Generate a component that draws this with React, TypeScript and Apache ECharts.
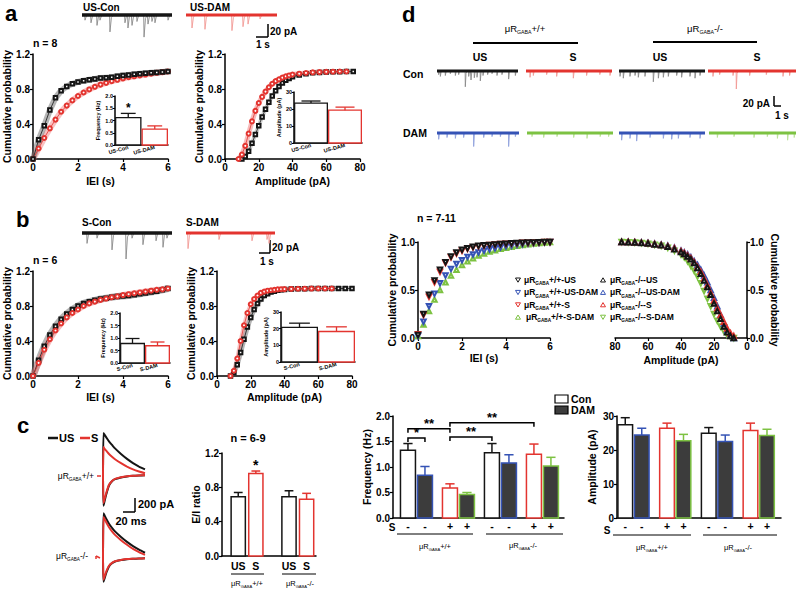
import React, { useEffect, useRef } from "react";
import * as echarts from "echarts";

const FONT = "'Liberation Sans', Arial, Helvetica, sans-serif";
const BLACK = "#151515";
const GREY_SPIKE = "#8a8a8a";
const RED = "#e3342f";
const RED_SPIKE = "#f29a95";
const BLUE = "#3553b5";
const BLUE_SPIKE = "#8ea0dc";
const GREEN = "#7dc242";
const GREEN_SPIKE = "#b9e294";
const DARK = "#3c3c3c";

// ---------------- cumulative data ----------------
const ieiX = [0, 0.25, 0.5, 0.75, 1, 1.25, 1.5, 1.75, 2, 2.25, 2.5, 2.75, 3, 3.25, 3.5, 3.75, 4, 4.25, 4.5, 4.75, 5, 5.25, 5.5, 5.75, 6];
const aIeiUsCon = [0, 0.22, 0.38, 0.56, 0.7, 0.78, 0.83, 0.86, 0.88, 0.895, 0.905, 0.915, 0.925, 0.93, 0.935, 0.945, 0.955, 0.96, 0.968, 0.975, 0.98, 0.985, 0.99, 0.995, 1];
const aIeiUsDam = [0, 0.12, 0.24, 0.35, 0.45, 0.54, 0.61, 0.67, 0.72, 0.76, 0.795, 0.825, 0.85, 0.87, 0.89, 0.905, 0.92, 0.935, 0.945, 0.955, 0.965, 0.975, 0.985, 0.992, 1];
const bIeiSCon = [0, 0.18, 0.34, 0.47, 0.57, 0.65, 0.71, 0.76, 0.8, 0.83, 0.85, 0.865, 0.88, 0.89, 0.9, 0.91, 0.915, 0.92, 0.93, 0.94, 0.95, 0.96, 0.97, 0.985, 1];
const bIeiSDam = [0, 0.15, 0.3, 0.42, 0.52, 0.6, 0.67, 0.72, 0.76, 0.8, 0.83, 0.85, 0.87, 0.885, 0.9, 0.91, 0.925, 0.935, 0.945, 0.955, 0.965, 0.975, 0.985, 0.99, 1];
const dIeiUs = [0.03, 0.25, 0.45, 0.6, 0.71, 0.79, 0.85, 0.89, 0.92, 0.935, 0.95, 0.96, 0.965, 0.97, 0.975, 0.98, 0.983, 0.986, 0.989, 0.992, 0.994, 0.996, 0.998, 0.999, 1];
const dIeiUsDam = [0.02, 0.17, 0.33, 0.46, 0.57, 0.65, 0.72, 0.77, 0.81, 0.845, 0.87, 0.89, 0.91, 0.925, 0.935, 0.945, 0.955, 0.962, 0.97, 0.977, 0.983, 0.988, 0.993, 0.997, 1];
const dIeiS = [0.04, 0.24, 0.43, 0.58, 0.69, 0.78, 0.84, 0.88, 0.91, 0.93, 0.945, 0.955, 0.962, 0.968, 0.973, 0.978, 0.982, 0.985, 0.988, 0.991, 0.993, 0.995, 0.997, 0.999, 1];
const dIeiSDam = [0.02, 0.14, 0.28, 0.4, 0.5, 0.58, 0.65, 0.71, 0.76, 0.8, 0.83, 0.86, 0.88, 0.9, 0.915, 0.93, 0.94, 0.95, 0.96, 0.968, 0.976, 0.984, 0.99, 0.995, 1];

const ampX = [8, 10, 12, 14, 16, 18, 20, 22, 24, 26, 28, 30, 32, 34, 36, 38, 40, 44, 48, 52, 56, 60, 64, 68, 72, 76];
const ampX80 = [8, 10, 12, 14, 16, 18, 20, 22, 24, 26, 28, 30, 32, 34, 36, 38, 40, 44, 48, 52, 56, 60, 64, 68, 72, 76, 80];
const aAmpUsCon = [null, 0, 0.03, 0.09, 0.18, 0.28, 0.38, 0.48, 0.57, 0.65, 0.72, 0.78, 0.83, 0.87, 0.9, 0.92, 0.94, 0.96, 0.975, 0.985, 0.99, 0.993, 0.996, 0.998, 1, 1];
const aAmpUsDam = [0, 0.05, 0.15, 0.29, 0.43, 0.55, 0.64, 0.71, 0.77, 0.82, 0.86, 0.89, 0.91, 0.93, 0.945, 0.955, 0.965, 0.975, 0.983, 0.99, 0.993, 0.996, 0.998, 1, 1, null];
const bAmpSCon = [0, 0.04, 0.13, 0.27, 0.42, 0.56, 0.67, 0.76, 0.83, 0.88, 0.92, 0.94, 0.96, 0.97, 0.98, 0.985, 0.99, 0.993, 0.996, 0.998, 1, 1, 1, 1, 1, 1, 1];
const bAmpSDam = [0, 0.06, 0.2, 0.4, 0.58, 0.72, 0.82, 0.88, 0.92, 0.95, 0.965, 0.975, 0.98, 0.985, 0.99, 0.992, 0.993, 0.995, 0.997, 0.998, 0.999, 1, 1, 1, null, null, null];
const dAmpUs = [0, 0.02, 0.06, 0.12, 0.2, 0.28, 0.36, 0.45, 0.53, 0.6, 0.67, 0.73, 0.78, 0.82, 0.85, 0.875, 0.895, 0.925, 0.95, 0.965, 0.975, 0.985, 0.99, 0.995, 0.998, 1];
const dAmpUsDam = [0, 0.03, 0.08, 0.15, 0.24, 0.33, 0.42, 0.5, 0.58, 0.65, 0.71, 0.76, 0.8, 0.84, 0.87, 0.89, 0.91, 0.94, 0.96, 0.972, 0.982, 0.99, 0.994, 0.997, 1, 1];
const dAmpS = [0.02, 0.05, 0.1, 0.17, 0.24, 0.31, 0.39, 0.47, 0.55, 0.62, 0.69, 0.74, 0.79, 0.83, 0.86, 0.885, 0.905, 0.935, 0.955, 0.97, 0.98, 0.988, 0.993, 0.997, 1, 1];
const dAmpSDam = [0, 0.01, 0.03, 0.07, 0.12, 0.18, 0.25, 0.33, 0.41, 0.49, 0.57, 0.64, 0.7, 0.75, 0.8, 0.84, 0.87, 0.91, 0.94, 0.96, 0.972, 0.982, 0.99, 0.995, 0.998, 1];

// ---------------- bar data ----------------
const aCats = ["US-Con", "US-DAM"];
const aFreqMean = [1.12, 0.65];
const aFreqSem = [0.17, 0.13];
const aFreqSig = ["*", ""];
const aAmpMean = [23.5, 19.3];
const aAmpSem = [1.2, 1.8];
const bCats = ["S-Con", "S-DAM"];
const bFreqMean = [0.78, 0.69];
const bFreqSem = [0.2, 0.15];
const bAmpMean = [20.8, 18.3];
const bAmpSem = [2.5, 2.8];

const eiCats = ["US", "S", "US", "S"];
const eiMean = [0.69, 0.96, 0.69, 0.66];
const eiSem = [0.05, 0.03, 0.07, 0.07];
const eiSig = ["", "*", "", ""];

const dStim = ["-", "-", "+", "+", "-", "-", "+", "+"];
const dFreqMean = [1.33, 0.84, 0.59, 0.46, 1.28, 1.08, 1.25, 1.02];
const dFreqSem = [0.13, 0.17, 0.08, 0.04, 0.18, 0.16, 0.2, 0.17];
const dAmpMean = [27.4, 24.4, 26.4, 22.7, 24.9, 22.5, 25.7, 24.3];
const dAmpSem = [2.1, 2.0, 1.5, 1.9, 1.7, 1.9, 2.2, 1.8];
// [bar i, bar j, height (Hz), label]
const freqSig: [number, number, number, string][] = [
  [0, 1, 1.57, "*"],
  [0, 2, 1.75, "**"],
  [2, 6, 1.87, "**"],
  [2, 4, 1.59, "**"],
];

// ---------------- example traces (spike times s, amplitudes pA) ----------------
const aUsConSpikes = [[0.25, 8], [0.75, 12], [1.25, 16], [1.5, 8], [2.33, 26], [3.58, 12], [3.83, 20], [4.17, 16], [4.58, 10], [5.17, 34], [5.5, 14], [5.83, 10], [6.08, 12], [7.17, 8]];
const aUsDamSpikes = [[0.5, 20], [1.58, 22], [3.83, 24], [4.75, 18], [5.17, 14], [6.17, 6]];
const bSConSpikes = [[0.42, 16], [1.25, 8], [2.5, 26], [3.67, 40], [4.17, 8], [5.08, 18], [6.17, 12], [6.75, 22], [7.08, 8]];
const bSDamSpikes = [[0.17, 24], [2.75, 10], [5.5, 12], [6.75, 10], [6.92, 16]];

const dWtUsSpikes = [[0.28, 8], [0.56, 12], [1.39, 10], [2.22, 6], [3.06, 10], [3.61, 8], [4.72, 35], [5.28, 12], [5.67, 20], [6.22, 15], [6.67, 14], [7.22, 22], [7.67, 10], [8.44, 8], [9.17, 6], [10.0, 10], [10.83, 8], [11.94, 18], [13.06, 10]];
const dWtSSpikes = [[0.67, 14], [1.22, 10], [3.44, 8], [5.11, 12], [7.89, 16], [10.1, 10], [12.3, 8], [14.0, 10]];
const dKoUsSpikes = [[0.17, 12], [0.72, 16], [1.83, 12], [2.67, 10], [3.22, 14], [4.33, 12], [5.72, 24], [6.56, 16], [7.39, 14], [8.22, 12], [9.61, 10], [10.44, 14], [11.83, 12], [12.67, 16], [13.5, 10]];
const dKoSSpikes = [[0.83, 12], [1.94, 8], [4.17, 10], [4.72, 40], [6.94, 10], [9.72, 8], [12.5, 12], [13.6, 10]];
const dWtUsDamSpikes = [[0.28, 14], [1.67, 10], [3.06, 12], [4.44, 10], [6.11, 30], [7.78, 10], [9.17, 8], [10.56, 8], [11.94, 30], [13.06, 8]];
const dWtSDamSpikes = [[0.83, 8], [2.78, 10], [5.0, 8], [7.78, 10], [10.0, 12], [12.2, 8], [13.6, 8]];
const dKoUsDamSpikes = [[0.44, 16], [1.83, 12], [2.94, 18], [5.17, 10], [7.39, 12], [8.78, 14], [9.89, 12], [11.83, 10], [13.5, 12]];
const dKoSDamSpikes = [[1.39, 10], [4.17, 8], [7.5, 10], [9.72, 8], [11.4, 12], [13.1, 16], [14.2, 10]];

// evoked currents (ms, pA)
const cT = [0, 0.8, 3, 6, 10, 15, 20, 30, 40, 50, 60, 70];
const cWtUsOut = [0, 600, 570, 530, 480, 430, 380, 300, 230, 170, 120, 80];
const cWtSOut = [0, 400, 370, 340, 300, 260, 225, 170, 120, 80, 50, 25];
const cWtUsIn = [0, -440, -360, -260, -150, -90, -60, -35, -20, -12, -8, -5];
const cWtSIn = [0, -400, -330, -240, -140, -85, -55, -32, -18, -10, -6, -4];
const cKoUsOut = [0, 640, 600, 550, 490, 430, 380, 300, 230, 170, 120, 75];
const cKoSOut = [0, 585, 550, 500, 440, 380, 330, 255, 190, 130, 85, 45];
const cKoUsIn = [0, -340, -280, -200, -120, -75, -50, -30, -18, -12, -8, -5];
const cKoSIn = [0, -310, -255, -180, -110, -70, -46, -28, -16, -11, -7, -4];

// ---------------- helpers ----------------
const zip = (xs: number[], ys: (number | null)[]) =>
  xs.map((x, i) => [x, ys[i]]).filter((p) => p[1] !== null && p[1] !== undefined);

function spikeTrace(spikes: number[][], dur: number) {
  const pts: number[][] = [[0, 0]];
  spikes.forEach(([t, a]) => {
    pts.push([t - 0.03, 0], [t, -a], [t + 0.12, -a * 0.15], [t + 0.28, 0]);
  });
  pts.push([dur, 0]);
  return pts;
}

const BAR_FILL = ["#ffffff", DARK, "#ffffff", DARK];
const BAR_STROKE = [BLACK, BLUE, RED, GREEN];

function barSeries(gi: number, items: number[][], fills: string[], strokes: string[], wUnits: number, opt: any = {}) {
  const lw = opt.lw ?? 1.5;
  return {
    type: "custom",
    xAxisIndex: gi,
    yAxisIndex: gi,
    clip: false,
    silent: true,
    data: items,
    renderItem: (p: any, api: any) => {
      const x = api.value(0), m = api.value(1), s = api.value(2), k = api.value(3);
      const b = api.coord([x, 0]);
      const t = api.coord([x, m]);
      const e = api.coord([x, m + s]);
      const w = api.size([wUnits, 0])[0];
      const stroke = strokes[k];
      const ch: any[] = [
        { type: "rect", shape: { x: b[0] - w / 2 + lw / 2, y: t[1], width: w - lw, height: b[1] - t[1] }, style: { fill: fills[k], stroke, lineWidth: lw } },
        { type: "line", shape: { x1: b[0], y1: t[1], x2: b[0], y2: e[1] }, style: { stroke, lineWidth: lw } },
        { type: "line", shape: { x1: b[0] - w * 0.28, y1: e[1], x2: b[0] + w * 0.28, y2: e[1] }, style: { stroke, lineWidth: lw } },
      ];
      const idx = p.dataIndex;
      if (opt.below) {
        ch.push({ type: "text", x: b[0], y: b[1] + (opt.belowGap ?? 9), style: { text: opt.below[idx], fontSize: opt.belowFs ?? 10, fontWeight: "bold", fontFamily: FONT, fill: "#000", align: "center", verticalAlign: "middle" } });
      }
      if (opt.sig && opt.sig[idx]) {
        ch.push({ type: "text", x: b[0], y: e[1] + 1, style: { text: opt.sig[idx], fontSize: opt.sigFs ?? 12, fontWeight: "bold", fontFamily: FONT, fill: "#000", align: "center", verticalAlign: "bottom" } });
      }
      return { type: "group", children: ch };
    },
  };
}

const axStyle = (fs: number, nameFs: number, tick = true) => ({
  axisLine: { show: true, onZero: false, lineStyle: { color: "#000", width: 1.5 } },
  axisTick: { show: tick, length: 3, lineStyle: { color: "#000", width: 1.2 } },
  axisLabel: { show: true, color: "#000", fontSize: fs, fontWeight: "bold", fontFamily: FONT, margin: 3 },
  splitLine: { show: false },
  nameTextStyle: { color: "#000", fontSize: nameFs, fontWeight: "bold", fontFamily: FONT },
});

const fix1 = (v: number) => v.toFixed(1);

// positions of bars along the bar charts' value axes (layout)
const dFreqPos = [0, 1, 2, 3, 4, 5, 6, 7].map((i) => 0.88 + Math.floor(i / 2) * 2.47 + (i % 2));
const dAmpPos = [0, 1, 2, 3, 4, 5, 6, 7].map((i) => 0.5 + Math.floor(i / 2) * 2.53 + (i % 2));
const eiPos = [0, 1, 2, 3].map((i) => 0.95 + Math.floor(i / 2) * 2.97 + (i % 2) * 1.03);

let FREQ_GRID = 0;

function buildOption() {
  const grid: any[] = [];
  const xAxis: any[] = [];
  const yAxis: any[] = [];
  const series: any[] = [];
  const addGrid = (g: any, x: any, y: any) => {
    grid.push({ ...g, containLabel: false, outerBoundsMode: "none", show: false });
    const i = grid.length - 1;
    xAxis.push({ gridIndex: i, ...x });
    yAxis.push({ gridIndex: i, ...y });
    return i;
  };
  const addTrace = (left: number, baseY: number, width: number, pxX: number, pxY: number, above: number, below: number, spikes: number[][], band: string, spikeCol: string, bandW: number) => {
    const dur = width / pxX;
    const gi = addGrid(
      { left, top: baseY - above, width, height: above + below },
      { type: "value", show: false, min: 0, max: dur },
      { type: "value", show: false, min: -below / pxY, max: above / pxY }
    );
    series.push({ type: "line", xAxisIndex: gi, yAxisIndex: gi, data: spikeTrace(spikes, dur), symbol: "none", lineStyle: { color: spikeCol, width: 0.9 }, silent: true });
    series.push({ type: "line", xAxisIndex: gi, yAxisIndex: gi, data: [[0, 0], [dur, 0]], symbol: "none", lineStyle: { color: band, width: bandW }, silent: true });
  };
  const band = (gi: number, xs: number[], ys: any[], color: string, w: number) => ({
    type: "line", xAxisIndex: gi, yAxisIndex: gi, data: zip(xs, ys), symbol: "none", lineStyle: { color, width: w }, silent: true,
  });
  const cum = (gi: number, xs: number[], ys: any[], color: string, symbol: string, size: number) => ({
    type: "line", xAxisIndex: gi, yAxisIndex: gi, data: zip(xs, ys), symbol, symbolSize: size, showSymbol: true,
    itemStyle: { color, borderColor: color, borderWidth: 1 }, lineStyle: { color, width: 0.8 }, silent: true,
  });
  const tri = (gi: number, xs: number[], ys: any[], color: string, down: boolean) => ({
    type: "line", xAxisIndex: gi, yAxisIndex: gi, data: zip(xs, ys), symbol: "emptyTriangle", symbolSize: 4.5, symbolRotate: down ? 180 : 0,
    showSymbol: true, itemStyle: { color, borderColor: color, borderWidth: 1 }, lineStyle: { width: 0, opacity: 0 }, silent: true,
  });

  // ---------- panel a ----------
  addTrace(82, 15, 90, 12, 0.65, 6, 26, aUsConSpikes, BLACK, GREY_SPIKE, 3.5);
  addTrace(186, 15, 91, 12, 0.65, 6, 26, aUsDamSpikes, RED, RED_SPIKE, 3);
  const gA1 = addGrid(
    { left: 33, top: 54, width: 135, height: 105 },
    { type: "value", min: 0, max: 6, interval: 2, name: "IEI (s)", nameLocation: "middle", nameGap: 16, ...axStyle(10, 10.5) },
    { type: "value", min: 0, max: 1.2, interval: 0.4, name: "Cumulative probability", nameLocation: "middle", nameGap: 17, ...axStyle(10, 10.5), axisLabel: { ...axStyle(10, 10).axisLabel, formatter: fix1 } }
  );
  series.push(band(gA1, ieiX, aIeiUsDam, "rgba(240,120,120,0.45)", 6));
  series.push(band(gA1, ieiX, aIeiUsCon, "rgba(90,90,90,0.45)", 6));
  series.push(cum(gA1, ieiX, aIeiUsDam, RED, "emptyCircle", 4));
  series.push(cum(gA1, ieiX, aIeiUsCon, BLACK, "emptyRect", 3.5));
  const gA1i = addGrid(
    { left: 115, top: 96, width: 53, height: 49 },
    { type: "category", data: aCats, ...axStyle(5.5, 5.5, false), axisLabel: { ...axStyle(5.5, 5.5).axisLabel, rotate: 15, interval: 0, margin: 2 } },
    { type: "value", min: 0, max: 2, interval: 0.5, name: "Frequency (Hz)", nameLocation: "middle", nameGap: 12, ...axStyle(5.5, 5.5), axisLabel: { ...axStyle(5.5, 5.5).axisLabel, formatter: fix1, margin: 2 }, axisTick: { show: true, length: 2, lineStyle: { width: 1 } } }
  );
  series.push(barSeries(gA1i, aFreqMean.map((m, i) => [i, m, aFreqSem[i], i]), ["#fff", "#fff"], [BLACK, RED], 0.47, { sig: aFreqSig, sigFs: 12, lw: 1.3 }));
  const gA2 = addGrid(
    { left: 225, top: 54, width: 135, height: 105 },
    { type: "value", min: 0, max: 80, interval: 20, name: "Amplitude (pA)", nameLocation: "middle", nameGap: 16, ...axStyle(10, 10.5) },
    { type: "value", min: 0, max: 1.2, interval: 0.4, name: "Cumulative probability", nameLocation: "middle", nameGap: 17, ...axStyle(10, 10.5), axisLabel: { ...axStyle(10, 10).axisLabel, formatter: fix1 } }
  );
  series.push(band(gA2, ampX, aAmpUsDam, "rgba(240,120,120,0.5)", 5));
  series.push(band(gA2, ampX, aAmpUsCon, "rgba(90,90,90,0.3)", 4));
  series.push(cum(gA2, ampX, aAmpUsCon, BLACK, "emptyRect", 3.5));
  series.push(cum(gA2, ampX, aAmpUsDam, RED, "emptyCircle", 4));
  const gA2i = addGrid(
    { left: 294, top: 92, width: 68, height: 51 },
    { type: "category", data: aCats, ...axStyle(5.5, 5.5, false), axisLabel: { ...axStyle(5.5, 5.5).axisLabel, rotate: 15, interval: 0, margin: 2 } },
    { type: "value", min: 0, max: 30, interval: 10, name: "Amplitude (pA)", nameLocation: "middle", nameGap: 10, ...axStyle(5.5, 5.5), axisLabel: { ...axStyle(5.5, 5.5).axisLabel, margin: 2 }, axisTick: { show: true, length: 2, lineStyle: { width: 1 } } }
  );
  series.push(barSeries(gA2i, aAmpMean.map((m, i) => [i, m, aAmpSem[i], i]), ["#fff", "#fff"], [BLACK, RED], 0.42, { lw: 1.3 }));

  // ---------- panel b ----------
  addTrace(82, 233, 90, 12, 0.65, 6, 28, bSConSpikes, BLACK, GREY_SPIKE, 3.5);
  addTrace(186, 233, 89, 12, 0.65, 6, 28, bSDamSpikes, RED, RED_SPIKE, 3);
  const gB1 = addGrid(
    { left: 33, top: 271, width: 135, height: 105 },
    { type: "value", min: 0, max: 6, interval: 2, name: "IEI (s)", nameLocation: "middle", nameGap: 15, ...axStyle(10, 10.5) },
    { type: "value", min: 0, max: 1.2, interval: 0.4, name: "Cumulative probability", nameLocation: "middle", nameGap: 17, ...axStyle(10, 10.5), axisLabel: { ...axStyle(10, 10).axisLabel, formatter: fix1 } }
  );
  series.push(band(gB1, ieiX, bIeiSCon, "rgba(90,90,90,0.45)", 7));
  series.push(band(gB1, ieiX, bIeiSDam, "rgba(240,120,120,0.5)", 6));
  series.push(cum(gB1, ieiX, bIeiSCon, BLACK, "emptyRect", 3.5));
  series.push(cum(gB1, ieiX, bIeiSDam, RED, "emptyCircle", 4));
  const gB1i = addGrid(
    { left: 120, top: 313, width: 50, height: 50 },
    { type: "category", data: bCats, ...axStyle(5.5, 5.5, false), axisLabel: { ...axStyle(5.5, 5.5).axisLabel, rotate: 15, interval: 0, margin: 2 } },
    { type: "value", min: 0, max: 2, interval: 0.5, name: "Frequency (Hz)", nameLocation: "middle", nameGap: 12, ...axStyle(5.5, 5.5), axisLabel: { ...axStyle(5.5, 5.5).axisLabel, formatter: fix1, margin: 2 }, axisTick: { show: true, length: 2, lineStyle: { width: 1 } } }
  );
  series.push(barSeries(gB1i, bFreqMean.map((m, i) => [i, m, bFreqSem[i], i]), ["#fff", "#fff"], [BLACK, RED], 0.55, { lw: 1.3 }));
  const gB2 = addGrid(
    { left: 217, top: 271, width: 135, height: 105 },
    { type: "value", min: 0, max: 80, interval: 20, name: "Amplitude (pA)", nameLocation: "middle", nameGap: 15, ...axStyle(10, 10.5) },
    { type: "value", min: 0, max: 1.2, interval: 0.4, name: "Cumulative probability", nameLocation: "middle", nameGap: 17, ...axStyle(10, 10.5), axisLabel: { ...axStyle(10, 10).axisLabel, formatter: fix1 } }
  );
  series.push(band(gB2, ampX80, bAmpSCon, "rgba(90,90,90,0.45)", 5));
  series.push(band(gB2, ampX80, bAmpSDam, "rgba(240,120,120,0.45)", 4));
  series.push(cum(gB2, ampX80, bAmpSCon, BLACK, "emptyRect", 3.5));
  series.push(cum(gB2, ampX80, bAmpSDam, RED, "emptyCircle", 4));
  const gB2i = addGrid(
    { left: 281, top: 312, width: 74, height: 50 },
    { type: "category", data: bCats, ...axStyle(5.5, 5.5, false), axisLabel: { ...axStyle(5.5, 5.5).axisLabel, rotate: 15, interval: 0, margin: 2 } },
    { type: "value", min: 0, max: 30, interval: 10, name: "Amplitude (pA)", nameLocation: "middle", nameGap: 10, ...axStyle(5.5, 5.5), axisLabel: { ...axStyle(5.5, 5.5).axisLabel, margin: 2 }, axisTick: { show: true, length: 2, lineStyle: { width: 1 } } }
  );
  series.push(barSeries(gB2i, bAmpMean.map((m, i) => [i, m, bAmpSem[i], i]), ["#fff", "#fff"], [BLACK, RED], 0.45, { lw: 1.3 }));

  // ---------- panel c ----------
  const cTrace = (top: number, out1: number[], out2: number[], in1: number[], in2: number[]) => {
    const gi = addGrid(
      { left: 103, top, width: 42, height: 84 },
      { type: "value", show: false, min: 0, max: 70 },
      { type: "value", show: false, min: -500, max: 700 }
    );
    series.push({ type: "line", xAxisIndex: gi, yAxisIndex: gi, data: zip(cT, out1), symbol: "none", smooth: 0.2, lineStyle: { color: BLACK, width: 2 }, silent: true });
    series.push({ type: "line", xAxisIndex: gi, yAxisIndex: gi, data: zip(cT, in1), symbol: "none", smooth: 0.2, lineStyle: { color: BLACK, width: 2 }, silent: true });
    series.push({ type: "line", xAxisIndex: gi, yAxisIndex: gi, data: zip(cT, out2), symbol: "none", smooth: 0.2, lineStyle: { color: RED, width: 2 }, silent: true });
    series.push({ type: "line", xAxisIndex: gi, yAxisIndex: gi, data: zip(cT, in2), symbol: "none", smooth: 0.2, lineStyle: { color: RED, width: 2 }, silent: true });
  };
  cTrace(426, cWtUsOut, cWtSOut, cWtUsIn, cWtSIn);
  cTrace(509, cKoUsOut, cKoSOut, cKoUsIn, cKoSIn);
  const gC = addGrid(
    { left: 222, top: 453, width: 94, height: 103 },
    { type: "value", min: 0, max: 5.5, ...axStyle(10, 10, false), axisLabel: { show: false } },
    { type: "value", min: 0, max: 1.2, interval: 0.4, name: "E/I ratio", nameLocation: "middle", nameGap: 20, ...axStyle(10, 10.5), axisLabel: { ...axStyle(10, 10).axisLabel, formatter: fix1 } }
  );
  series.push(barSeries(gC, eiMean.map((m, i) => [eiPos[i], m, eiSem[i], i]), ["#fff", "#fff", "#fff", "#fff"], [BLACK, RED, BLACK, RED], 0.92, { below: eiCats, belowFs: 10.5, belowGap: 10, sig: eiSig, sigFs: 14 }));

  // ---------- panel d traces ----------
  const dRow = (baseY: number, specs: [number, number, number[][], string, string][]) =>
    specs.forEach(([left, width, sp, col, spc]) => addTrace(left, baseY, width, 6, 0.45, 8, 26, sp, col, spc, 3));
  dRow(71, [
    [437, 81, dWtUsSpikes, BLACK, GREY_SPIKE],
    [526, 86, dWtSSpikes, RED, RED_SPIKE],
    [619, 86, dKoUsSpikes, BLACK, GREY_SPIKE],
    [708, 88, dKoSSpikes, RED, RED_SPIKE],
  ]);
  dRow(133, [
    [437, 82, dWtUsDamSpikes, BLUE, BLUE_SPIKE],
    [527, 86, dWtSDamSpikes, GREEN, GREEN_SPIKE],
    [619, 86, dKoUsDamSpikes, BLUE, BLUE_SPIKE],
    [709, 87, dKoSDamSpikes, GREEN, GREEN_SPIKE],
  ]);

  // ---------- panel d cumulative ----------
  const gD1 = addGrid(
    { left: 418, top: 242, width: 132, height: 96 },
    { type: "value", min: 0, max: 6, interval: 2, name: "IEI (s)", nameLocation: "middle", nameGap: 14, ...axStyle(10, 10.5) },
    { type: "value", min: 0, max: 1, interval: 0.5, name: "Cumulative probability", nameLocation: "middle", nameGap: 17, ...axStyle(10, 10.5), axisLabel: { ...axStyle(10, 10).axisLabel, formatter: fix1 } }
  );
  series.push(tri(gD1, ieiX, dIeiSDam, GREEN, false));
  series.push(tri(gD1, ieiX, dIeiUsDam, BLUE, true));
  series.push(tri(gD1, ieiX, dIeiS, RED, true));
  series.push(tri(gD1, ieiX, dIeiUs, BLACK, true));
  const gD2 = addGrid(
    { left: 615, top: 242, width: 132, height: 96 },
    { type: "value", min: 0, max: 80, interval: 20, inverse: true, name: "Amplitude (pA)", nameLocation: "middle", nameGap: 16, ...axStyle(10, 10.5) },
    { type: "value", position: "right", min: 0, max: 1, interval: 0.5, name: "Cumulative probability", nameLocation: "middle", nameGap: 22, nameRotate: -90, ...axStyle(10, 10.5), axisLabel: { ...axStyle(10, 10).axisLabel, formatter: fix1 } }
  );
  series.push(tri(gD2, ampX, dAmpSDam, GREEN, true));
  series.push(tri(gD2, ampX, dAmpUsDam, BLUE, false));
  series.push(tri(gD2, ampX, dAmpS, RED, false));
  series.push(tri(gD2, ampX, dAmpUs, BLACK, false));

  // ---------- panel d bars ----------
  const gF = addGrid(
    { left: 393, top: 416, width: 171, height: 102 },
    { type: "value", min: 0, max: 171 / 17, ...axStyle(10, 10, false), axisLabel: { show: false } },
    { type: "value", min: 0, max: 2, interval: 0.5, name: "Frequency (Hz)", nameLocation: "middle", nameGap: 21, ...axStyle(10, 10.5), axisLabel: { ...axStyle(10, 10).axisLabel, formatter: fix1 } }
  );
  FREQ_GRID = gF;
  series.push(barSeries(gF, dFreqMean.map((m, i) => [dFreqPos[i], m, dFreqSem[i], i % 4]), BAR_FILL, BAR_STROKE, 0.97, { below: dStim, belowFs: 10.5, belowGap: 8 }));
  const gAm = addGrid(
    { left: 617, top: 416, width: 164, height: 102 },
    { type: "value", min: 0, max: 164 / 16.5, ...axStyle(10, 10, false), axisLabel: { show: false } },
    { type: "value", min: 0, max: 30, interval: 10, name: "Amplitude (pA)", nameLocation: "middle", nameGap: 20, ...axStyle(10, 10.5) }
  );
  series.push(barSeries(gAm, dAmpMean.map((m, i) => [dAmpPos[i], m, dAmpSem[i], i % 4]), BAR_FILL, BAR_STROKE, 0.98, { below: dStim, belowFs: 10.5, belowGap: 8 }));

  return { animation: false, backgroundColor: "#fff", grid, xAxis, yAxis, series };
}

// ---------------- graphic annotations ----------------
const txt = (x: number, y: number, text: string, fs: number, align = "left", extra: any = {}) => ({
  type: "text", x, y, silent: true,
  style: { text, fontSize: fs, fontWeight: "bold", fontFamily: FONT, fill: "#000", align, verticalAlign: "middle", ...extra },
});
const ln = (x1: number, y1: number, x2: number, y2: number, w = 1.5, color = "#000") => ({
  type: "line", silent: true, shape: { x1, y1, x2, y2 }, style: { stroke: color, lineWidth: w },
});
const mu = (x: number, y: number, suffix: string, fs: number, align = "left", weight = "normal") => ({
  type: "text", x, y, silent: true,
  style: {
    text: `{m|μR}{s|GABA}{m|${suffix}}`, align, verticalAlign: "middle",
    rich: {
      m: { fontSize: fs, fontWeight: weight, fontFamily: FONT, fill: "#000", lineHeight: fs + 4 },
      s: { fontSize: fs * 0.55, fontWeight: weight, fontFamily: FONT, fill: "#000", lineHeight: fs * 0.6, verticalAlign: "bottom" },
    },
  },
});
const triMark = (x: number, y: number, down: boolean, color: string) => ({
  type: "polygon", silent: true,
  shape: { points: down ? [[x - 2.5, y - 2], [x + 2.5, y - 2], [x, y + 2.2]] : [[x - 2.5, y + 2], [x + 2.5, y + 2], [x, y - 2.2]] },
  style: { fill: "none", stroke: color, lineWidth: 1 },
});

function buildGraphics(chart: any) {
  const g: any[] = [];
  // panel letters
  g.push(txt(5, 13, "a", 22), txt(16, 219, "b", 22), txt(17, 425, "c", 22), txt(402, 14, "d", 22));
  // panel a
  g.push(txt(83, 7, "US-Con", 10), txt(190, 7, "US-DAM", 10), txt(33, 43, "n = 8", 10.5));
  g.push(ln(268, 24, 268, 37, 1.5), ln(256, 37, 268, 37, 1.5), txt(270, 31, "20 pA", 10), txt(256, 44, "1 s", 10));
  // panel b
  g.push(txt(82, 222, "S-Con", 10), txt(186, 222, "S-DAM", 10), txt(33, 260, "n = 6", 10.5));
  g.push(ln(270, 240, 270, 253, 1.5), ln(259, 253, 270, 253, 1.5), txt(272, 247, "20 pA", 10), txt(260, 261, "1 s", 10));
  // panel c
  g.push(ln(48, 438, 58, 438, 2.5, BLACK), txt(59, 438, "US", 11), ln(80, 438, 90, 438, 2.5, RED), txt(91, 438, "S", 11));
  g.push(mu(94, 476, "+/+", 8.5, "right"), ln(97, 476, 101, 476, 1.5, RED));
  g.push(mu(88, 556, "-/-", 8.5, "right"), ln(96, 556, 100, 558, 1.5, RED), ln(96, 556, 96, 559, 1.5, RED));
  g.push(ln(135, 498, 135, 512, 1.5), ln(123, 512, 135, 512, 1.5), txt(138, 504, "200 pA", 11), txt(131, 521, "20 ms", 11, "center"));
  g.push(txt(248, 438, "n = 6-9", 11, "center"));
  g.push(ln(231, 574, 264, 574, 1), ln(282, 574, 316, 574, 1));
  g.push(mu(247, 583, "+/+", 7.5, "center"), mu(300, 583, "-/-", 7.5, "center"));
  // panel d traces
  g.push(mu(525, 28, "+/+", 9.5, "center"), ln(473, 43, 578, 43, 2), mu(705, 28, "-/-", 9.5, "center"), ln(653, 42, 757, 42, 2));
  g.push(txt(480, 57, "US", 10.5, "center"), txt(573, 57, "S", 10.5, "center"), txt(660, 57, "US", 10.5, "center"), txt(757, 57, "S", 10.5, "center"));
  g.push(txt(403, 74, "Con", 10.5), txt(403, 133, "DAM", 10.5));
  g.push(txt(770, 103, "20 pA", 10, "right"), ln(774, 96, 774, 106, 1.5), ln(774, 106, 781, 106, 1.5), txt(775, 115, "1 s", 10));
  g.push(txt(417, 218, "n = 7-11", 10.5));
  // d cumulative legends
  const legL: [string, string, boolean][] = [["+/+-US", BLACK, true], ["+/+-US-DAM", BLUE, true], ["+/+-S", RED, true], ["+/+-S-DAM", GREEN, false]];
  legL.forEach(([s, c, down], i) => {
    const y = 280 + i * 12.4;
    g.push(triMark(518, y, down, c), mu(524 + (i === 3 ? 2 : 0), y, s, 8.5, "left", "bold"));
  });
  const legR: [string, string, boolean][] = [["-/--US", BLACK, false], ["-/--US-DAM", BLUE, false], ["-/--S", RED, false], ["-/--S-DAM", GREEN, true]];
  legR.forEach(([s, c, down], i) => {
    const y = 280 + i * 12.4;
    g.push(triMark(603, y, down, c), mu(610, y, s, 8.5, "left", "bold"));
  });
  // Con / DAM legend
  g.push({ type: "rect", silent: true, shape: { x: 555, y: 395, width: 13, height: 8 }, style: { fill: "#fff", stroke: "#000", lineWidth: 1.2 } });
  g.push({ type: "rect", silent: true, shape: { x: 555, y: 406, width: 13, height: 8 }, style: { fill: DARK, stroke: "#000", lineWidth: 1.2 } });
  g.push(txt(571, 399, "Con", 10.5), txt(571, 410, "DAM", 10.5));
  // S rows & group labels
  g.push(txt(392, 527, "S", 10, "center"), txt(607, 530, "S", 10, "center"));
  g.push(ln(397, 534, 473, 534, 1), ln(486, 534, 563, 534, 1), mu(435, 546, "+/+", 7.5, "center"), mu(523, 545, "-/-", 7.5, "center"));
  g.push(ln(613, 535, 691, 535, 1), ln(703, 535, 777, 535, 1), mu(652, 547, "+/+", 7.5, "center"), mu(738, 547, "-/-", 7.5, "center"));
  // significance brackets (frequency chart)
  freqSig.forEach(([i, j, h, lab]) => {
    const p1 = chart.convertToPixel({ gridIndex: FREQ_GRID }, [dFreqPos[i], h]);
    const p2 = chart.convertToPixel({ gridIndex: FREQ_GRID }, [dFreqPos[j], h]);
    g.push({ type: "polyline", silent: true, shape: { points: [[p1[0], p1[1] + 4], [p1[0], p1[1]], [p2[0], p2[1]], [p2[0], p2[1] + 4]] }, style: { fill: "none", stroke: "#000", lineWidth: 1.5 } });
    g.push(txt((p1[0] + p2[0]) / 2, p1[1] - 5, lab, 13, "center"));
  });
  return g;
}

export default function App() {
  const ref = useRef<HTMLDivElement>(null);
  useEffect(() => {
    const chart = echarts.init(ref.current as HTMLDivElement, null, { renderer: "svg" });
    chart.setOption(buildOption() as any);
    chart.setOption({ graphic: buildGraphics(chart) } as any);
    return () => chart.dispose();
  }, []);
  return <div ref={ref} style={{ position: "fixed", left: 0, top: 0, width: 796, height: 592, background: "#fff" }} />;
}
